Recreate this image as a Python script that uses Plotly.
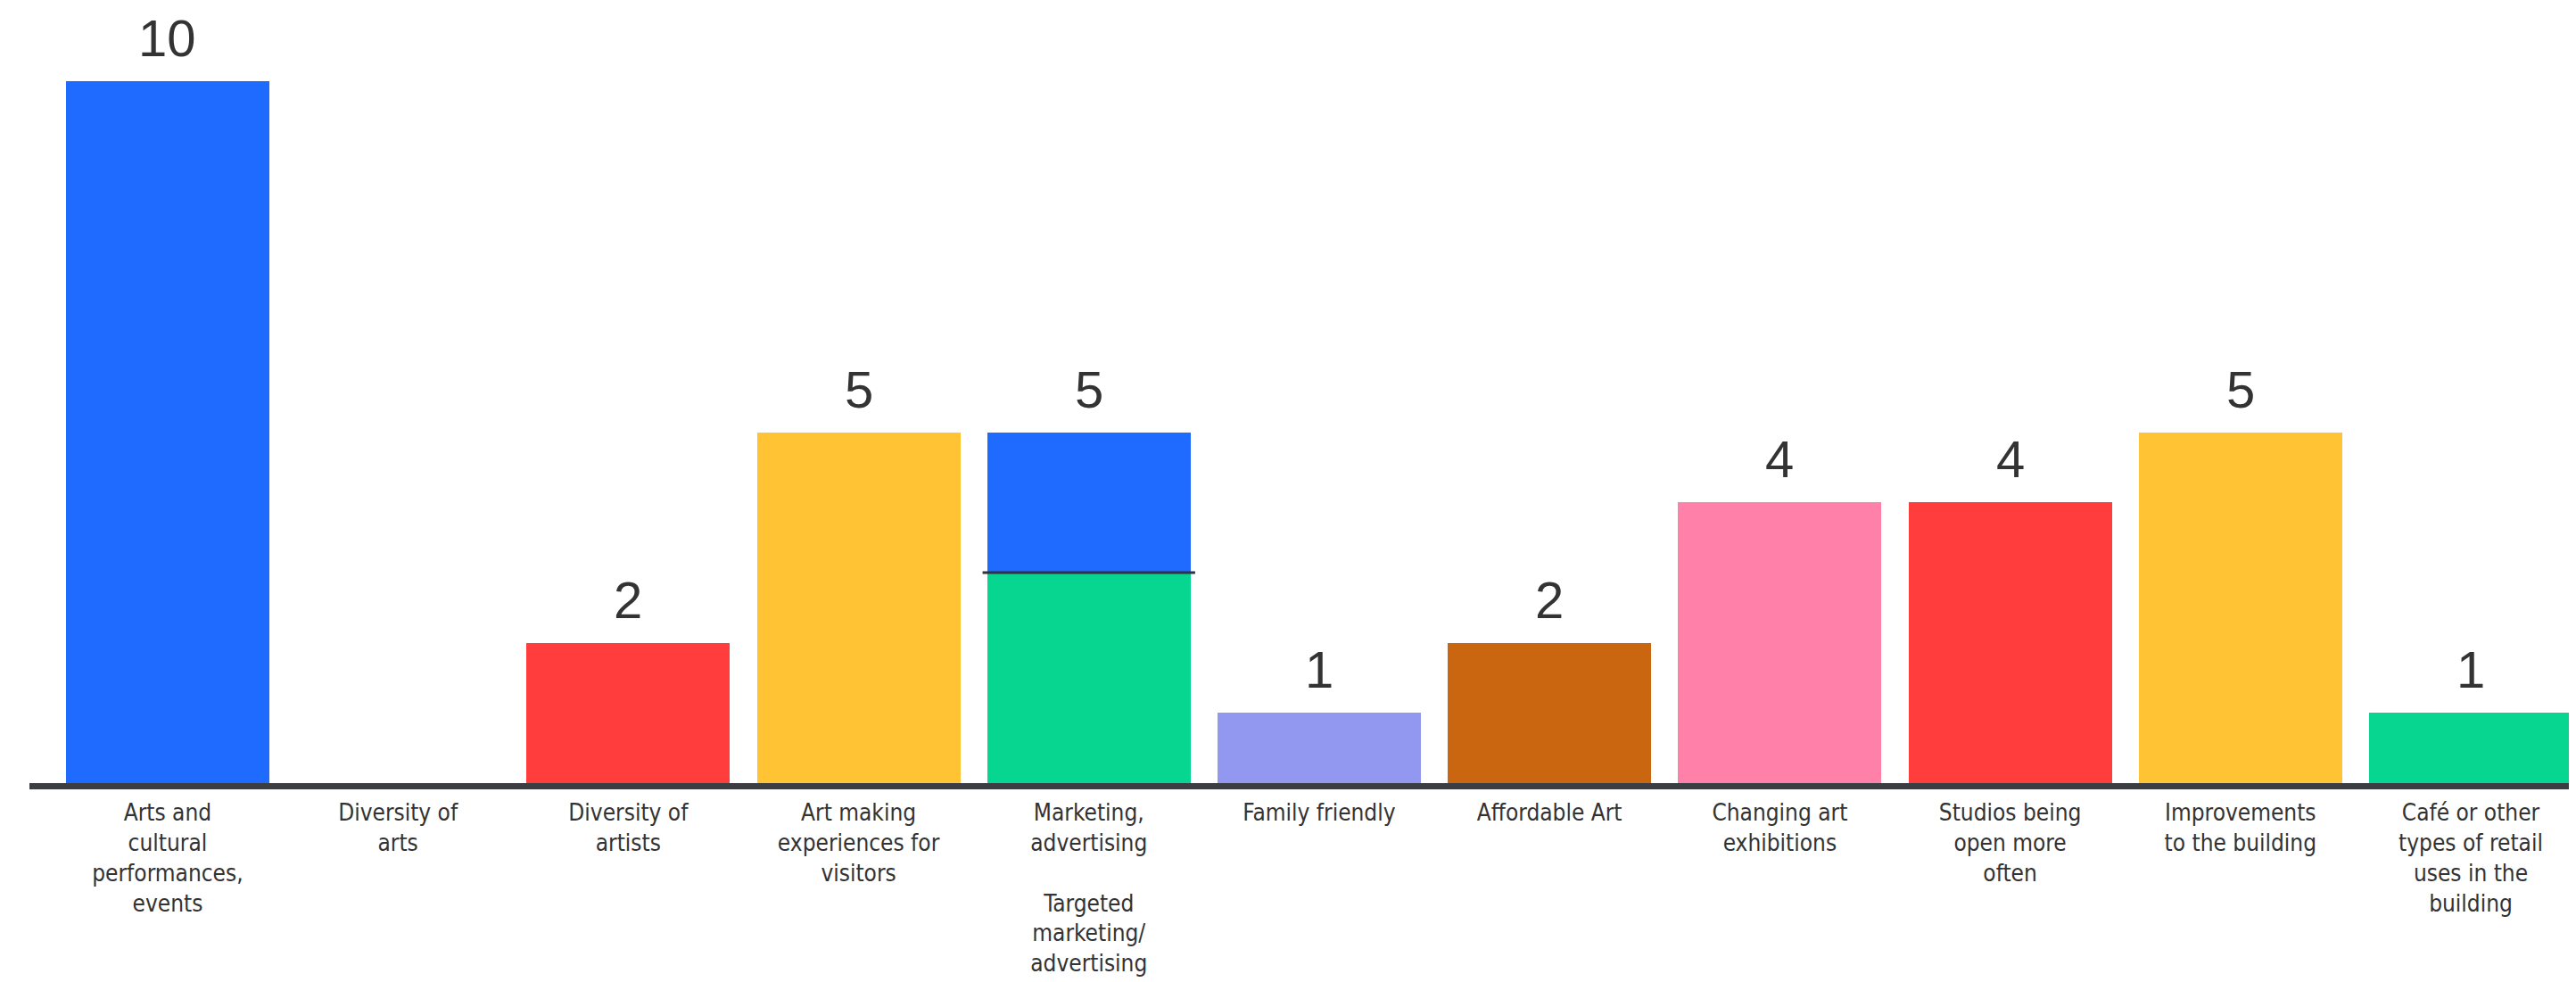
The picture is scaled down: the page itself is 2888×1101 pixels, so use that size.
import plotly.graph_objects as go

# ---- data ----
categories = [
    "Arts and<br>cultural<br>performances,<br>events",
    "Diversity of<br>arts",
    "Diversity of<br>artists",
    "Art making<br>experiences for<br>visitors",
    "Marketing,<br>advertising<br><br>Targeted<br>marketing/<br>advertising",
    "Family friendly",
    "Affordable Art",
    "Changing art<br>exhibitions",
    "Studios being<br>open more<br>often",
    "Improvements<br>to the building",
    "Café or other<br>types of retail<br>uses in the<br>building",
]
base_values = [10, 0, 2, 5, 3, 1, 2, 4, 4, 5, 1]
top_values = [0, 0, 0, 0, 2, 0, 0, 0, 0, 0, 0]
base_colors = ["#1F6BFF", "#FFFFFF", "#FF3D3D", "#FFC333", "#06D690", "#9297F0",
               "#C9660F", "#FF80A8", "#FF3D3D", "#FFC333", "#06D690"]
top_color = "#1F6BFF"

BAR_W = 0.883
x = list(range(len(categories)))
totals = [b + t for b, t in zip(base_values, top_values)]

fig = go.Figure()
fig.add_trace(go.Bar(x=x, y=base_values, width=BAR_W, marker=dict(color=base_colors, line=dict(width=0)),
                     hoverinfo="skip", showlegend=False))
fig.add_trace(go.Bar(x=x, y=top_values, width=BAR_W, marker=dict(color=top_color, line=dict(width=0)),
                     hoverinfo="skip", showlegend=False))

# value labels above bars
for xi, tot in zip(x, totals):
    if tot > 0:
        fig.add_annotation(x=xi, y=tot, text=str(tot), showarrow=False, yanchor="bottom",
                           yshift=14, font=dict(size=58, color="#333333",
                                                family="Liberation Sans, Arial, sans-serif"))

# divider between stacked segments
for xi, b, t in zip(x, base_values, top_values):
    if t > 0 and b > 0:
        fig.add_shape(type="line", xref="x", yref="y", x0=xi - BAR_W / 2 - 0.02, x1=xi + BAR_W / 2 + 0.02,
                      y0=b, y1=b, line=dict(color="#2E3440", width=3))

fig.update_layout(
    barmode="stack",
    width=2888, height=1101,
    margin=dict(l=25, r=0, t=0, b=231),
    plot_bgcolor="white", paper_bgcolor="white",
    xaxis=dict(range=[-0.600, 10.488], tickvals=x, ticktext=categories, showgrid=False, zeroline=False,
               showline=True, linewidth=7, linecolor="#3A3D42", ticks="", ticklabelstandoff=4,
               tickfont=dict(size=26, color="#333333",
                             family="Liberation Sans Narrow, DejaVu Sans Condensed, Arial Narrow, sans-serif"),
               tickangle=0, fixedrange=True),
    yaxis=dict(range=[0, 11.06], visible=False, showgrid=False, zeroline=False, fixedrange=True),
)

fig.write_html("out.html")
